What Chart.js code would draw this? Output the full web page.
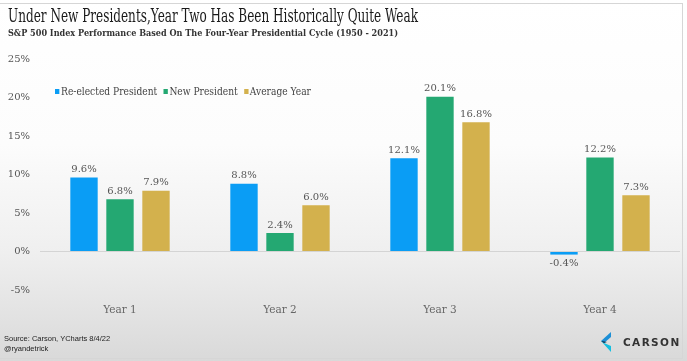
<!DOCTYPE html>
<html>
<head>
<meta charset="utf-8">
<script src="https://cdn.jsdelivr.net/npm/chart.js@4/dist/chart.umd.min.js"></script>
<style>
  html, body { margin: 0; padding: 0; background: #fff; }
  #frame {
    position: relative; width: 687px; height: 361px; overflow: hidden;
    background: linear-gradient(to bottom, #ffffff 0%, #fcfcfc 40%, #efefef 70%, #e2e2e2 88%, #d9d9d9 100%);
  }
  #border { position: absolute; left: -1px; top: 3px; width: 684px; height: 356px; border: 1px solid #d6d6d6; box-sizing: border-box; pointer-events: none; }
  canvas#c { position: absolute; left: 0; top: 0; }
  .fit { position: absolute; white-space: nowrap; transform-origin: 0 50%; }
  #title { left: 8px; top: 5px; font-family: "DejaVu Serif", serif; font-size: 18.5px; color: #1a1a1a; }
  #subtitle { left: 8px; top: 28px; font-family: "DejaVu Serif", serif; font-size: 9px; font-weight: bold; color: #333; }
  #legend { left: 55px; top: 85px; font-family: "DejaVu Serif", serif; font-size: 10.5px; color: #444; }
  #legend span.item { margin-right: 7px; }
  #legend span.sw { display: inline-block; width: 5px; height: 5px; margin-right: 2px; vertical-align: 1px; }
  #source { position: absolute; left: 4px; top: 334px; font-family: "Liberation Sans", Arial, sans-serif; font-size: 7.5px; color: #222; line-height: 10px; }
  #logo { position: absolute; left: 600px; top: 332px; width: 82px; height: 22px; }
  #logotext { position: absolute; left: 623px; top: 336px; font-family: "DejaVu Sans", sans-serif; font-weight: bold; font-size: 10.5px; letter-spacing: 1.4px; color: #333; }
</style>
</head>
<body>
<div id="frame">
  <canvas id="c" width="687" height="361"></canvas>
  <div id="title" class="fit" data-w="410">Under New Presidents,Year Two Has Been Historically Quite Weak</div>
  <div id="subtitle" class="fit" data-w="390">S&amp;P 500 Index Performance Based On The Four-Year Presidential Cycle (1950 - 2021)</div>
  <div id="legend" class="fit" data-w="262"></div>
  <div id="source">Source: Carson, YCharts 8/4/22<br>@ryandetrick</div>
  <svg id="logo" viewBox="0 0 82 22">
    <polygon points="11,0 1,9 4,11 11,5" fill="#1c8fd6"/>
    <polygon points="1,9 11,20 11,14 4,11" fill="#14bfe0"/>
    <polygon points="1,9 4,11 7,10" fill="#0b2a44"/>
  </svg>
  <div id="logotext">CARSON</div>
  <div id="border"></div>
</div>
<script>
const categories = ["Year 1", "Year 2", "Year 3", "Year 4"];
const seriesNames = ["Re-elected President", "New President", "Average Year"];
const reelected = [9.6, 8.8, 12.1, -0.4];
const newPresident = [6.8, 2.4, 20.1, 12.2];
const averageYear = [7.9, 6.0, 16.8, 7.3];
const yTicks = [-5, 0, 5, 10, 15, 20, 25];
const colors = ["#0a9df5", "#24a872", "#d3b14d"];

const serif = "'DejaVu Serif', serif";

// legend
const lg = document.getElementById('legend');
seriesNames.forEach((n, i) => {
  const s = document.createElement('span');
  s.className = 'item';
  s.innerHTML = '<span class="sw" style="background:' + colors[i] + '"></span>' + n;
  lg.appendChild(s);
});

// fit header texts
document.querySelectorAll('.fit').forEach(el => {
  const w = el.getBoundingClientRect().width;
  const target = +el.dataset.w;
  el.style.transform = 'scaleX(' + (target / w) + ')';
});

const valueLabels = {
  id: 'valueLabels',
  afterDatasetsDraw(chart) {
    const ctx = chart.ctx;
    ctx.save();
    ctx.font = "10px " + serif;
    ctx.fillStyle = '#555';
    ctx.textAlign = 'center';
    chart.data.datasets.forEach((ds, di) => {
      const meta = chart.getDatasetMeta(di);
      meta.data.forEach((el, i) => {
        const v = ds.data[i];
        const txt = v.toFixed(1) + '%';
        if (v >= 0) {
          ctx.textBaseline = 'bottom';
          ctx.fillText(txt, el.x, el.y - 3);
        } else {
          ctx.textBaseline = 'top';
          ctx.fillText(txt, el.x, el.y + 4);
        }
      });
    });
    ctx.restore();
  }
};

new Chart(document.getElementById('c'), {
  type: 'bar',
  data: {
    labels: categories,
    datasets: [
      { label: seriesNames[0], data: reelected, backgroundColor: colors[0] },
      { label: seriesNames[1], data: newPresident, backgroundColor: colors[1] },
      { label: seriesNames[2], data: averageYear, backgroundColor: colors[2] }
    ]
  },
  options: {
    responsive: false,
    animation: false,
    devicePixelRatio: 1,
    layout: { padding: { top: 59, bottom: 41, left: 0, right: 7 } },
    datasets: { bar: { categoryPercentage: 0.675, barPercentage: 0.76 } },
    plugins: { legend: { display: false }, tooltip: { enabled: false } },
    scales: {
      x: {
        afterFit(s) { s.height = 30; },
        grid: { display: false },
        border: { display: false },
        ticks: { color: '#666', font: { family: serif, size: 10.5 }, padding: 6 }
      },
      y: {
        min: -5, max: 25,
        afterFit(s) { s.width = 40; },
        afterBuildTicks(s) { s.ticks = yTicks.map(v => ({ value: v })); },
        grid: {
          drawTicks: false,
          color: c => (c.tick && c.tick.value === 0) ? '#d4d4d4' : 'rgba(0,0,0,0)',
          lineWidth: 1
        },
        border: { display: false },
        ticks: { color: '#555', font: { family: serif, size: 10 }, padding: 10, callback: v => v + '%' }
      }
    }
  },
  plugins: [valueLabels]
});
</script>
</body>
</html>
